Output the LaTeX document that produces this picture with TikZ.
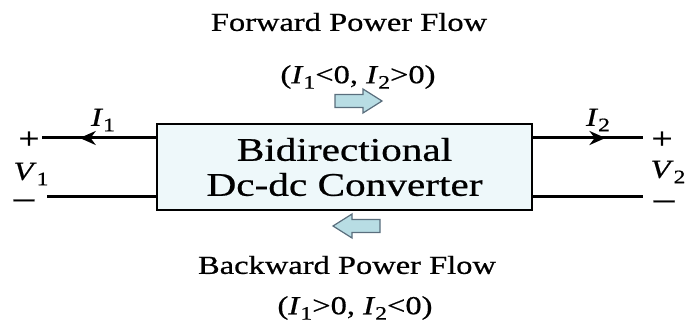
\documentclass[tikz,border=0pt]{standalone}
\usepackage{fontspec}
\setmainfont{Liberation Serif}[FakeStretch=1.25, FakeBold=0.6]
\usepackage{tikz}
\usetikzlibrary{arrows.meta, decorations.markings}
\definecolor{convFill}{RGB}{238, 248, 250}
\definecolor{flowFill}{RGB}{184, 221, 228}
\definecolor{flowEdge}{RGB}{90, 110, 125}
\newcommand{\lowsub}[1]{\raisebox{-0.45ex}{\fontsize{9.5}{9.5}\selectfont #1}}

\begin{document}
\begin{tikzpicture}[
  x=0.5pt, y=-0.5pt,
  conv/.style={draw=black, fill=convFill, line width=0.6pt,
               minimum width=187.5pt, minimum height=43pt, inner sep=0pt,
               align=center, font=\fontsize{16.5}{17.5}\selectfont},
  label/.style={inner sep=0pt, font=\fontsize{13}{15}\selectfont},
  sign/.style={inner sep=0pt, font=\fontsize{15}{15}\selectfont},
  minus/.style={inner sep=0pt, font=\fontsize{18}{18}\selectfont},
  flow/.pic={\draw[draw=flowEdge, fill=flowFill, line width=0.6pt]
               (-23.5,-6.5) -- (4.5,-6.5) -- (4.5,-12) -- (23.5,0)
               -- (4.5,12) -- (4.5,6.5) -- (-23.5,6.5) -- cycle;},
  wire/.style={line width=1.5pt},
  current/.style={wire, postaction={decorate}, decoration={markings,
               mark=at position #1 with {\arrow{Stealth[length=8pt, width=7pt]}}}}
]
  \useasboundingbox (0,0) rectangle (699,325);

  % Converter block
  \node[conv] (box) at (344.5,167) {Bidirectional\\Dc-dc Converter};

  % Port terminals
  \coordinate (t1p) at (42,138);
  \coordinate (t1m) at (47,197);
  \coordinate (t2p) at (643,138);
  \coordinate (t2m) at (643,197);

  % Port wires
  \draw[current=0.67] (box.west |- t1p) -- (t1p);
  \draw[wire] (box.west |- t1m) -- (t1m);
  \draw[current=0.66] (box.east |- t2p) -- (t2p);
  \draw[wire] (box.east |- t2m) -- (t2m);

  % Port 1 labels
  \node[label] (i1) at (103,120) {\textit{I}\lowsub{1}};
  \node[sign] (plus1) at (29,140) {+};
  \node[label] (v1) at (31,174) {\textit{V}\lowsub{1}};
  \node[minus] (minus1) at (24,206) {−};

  % Port 2 labels
  \node[label] (i2) at (598,120) {\textit{I}\lowsub{2}};
  \node[sign] (plus2) at (662,140) {+};
  \node[label] (v2) at (668,172) {\textit{V}\lowsub{2}};
  \node[minus] (minus2) at (664,207) {−};

  % Forward power flow
  \node[label] (fwd) at (349,22) {Forward Power Flow};
  \node[label] (fwdcond) at (358,77)
    {(\textit{I}\lowsub{1}<0, \textit{I}\lowsub{2}>0)};
  \pic (fwdarrow) at (358.5,101) {flow};

  % Backward power flow
  \pic[rotate=180] (bwdarrow) at (356.5,226) {flow};
  \node[label] (bwd) at (347,265) {Backward Power Flow};
  \node[label] (bwdcond) at (355,308)
    {(\textit{I}\lowsub{1}>0, \textit{I}\lowsub{2}<0)};

\end{tikzpicture}
\end{document}
